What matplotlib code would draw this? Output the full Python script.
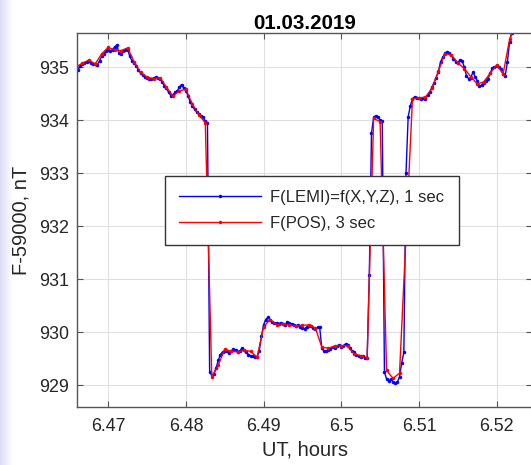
#! /usr/bin/env python
# coding: utf-8
"""Plot F(LEMI) vs F(POS) total field, 01.03.2019."""

import numpy as np
import matplotlib
matplotlib.use('Agg')
import matplotlib.pyplot as plt
from matplotlib.colors import LinearSegmentedColormap

# sampling: both series start at the same UT, LEMI every 1 s, POS every 3 s
t_start = 6.465804
dt_lemi = 1.0 / 3600
dt_pos = 3.0 / 3600

# F - 59000, nT (1 s LEMI)
f_lemi = [
    935.00, 934.94, 935.02, 935.05, 935.08, 935.10, 935.12, 935.08, 935.05, 935.06,
    935.04, 935.12, 935.20, 935.25, 935.30, 935.33, 935.30, 935.33, 935.38, 935.41,
    935.26, 935.25, 935.30, 935.33, 935.33, 935.20, 935.12, 935.08, 935.02, 934.95,
    934.88, 934.85, 934.82, 934.79, 934.78, 934.78, 934.79, 934.81, 934.79, 934.77,
    934.72, 934.65, 934.60, 934.52, 934.46, 934.48, 934.52, 934.55, 934.62, 934.67,
    934.60, 934.55, 934.46, 934.34, 934.27, 934.20, 934.15, 934.12, 934.08, 934.05,
    933.98, 933.95, 929.25, 929.19, 929.22, 929.33, 929.47, 929.58, 929.63, 929.65,
    929.65, 929.61, 929.64, 929.68, 929.66, 929.63, 929.65, 929.70, 929.66, 929.62,
    929.58, 929.56, 929.55, 929.54, 929.53, 929.65, 929.92, 930.14, 930.24, 930.28,
    930.24, 930.20, 930.18, 930.17, 930.16, 930.18, 930.16, 930.14, 930.20, 930.17,
    930.15, 930.13, 930.12, 930.14, 930.10, 930.08, 930.07, 930.10, 930.12, 930.11,
    930.08, 930.07, 930.09, 930.09, 929.70, 929.64, 929.65, 929.66, 929.68, 929.72,
    929.70, 929.74, 929.76, 929.73, 929.75, 929.78, 929.76, 929.70, 929.64, 929.62,
    929.58, 929.55, 929.53, 929.55, 929.52, 929.52, 931.08, 933.75, 934.05, 934.08,
    934.05, 934.00, 933.98, 929.25, 929.12, 929.08, 929.12, 929.07, 929.05, 929.06,
    929.16, 929.42, 929.62, 933.00, 934.06, 934.27, 934.40, 934.44, 934.42, 934.41,
    934.40, 934.42, 934.40, 934.47, 934.52, 934.62, 934.70, 934.80, 934.91, 935.10,
    935.18, 935.26, 935.28, 935.26, 935.22, 935.16, 935.10, 935.07, 935.14, 935.12,
    935.00, 934.84, 934.78, 934.80, 934.90, 934.82, 934.74, 934.64, 934.66, 934.70,
    934.74, 934.78, 934.88, 934.98, 935.00, 935.02, 935.00, 934.96, 934.86, 934.84,
    935.10, 935.48, 935.64,
]

# F - 59000, nT (3 s POS)
f_pos = [
    935.00, 935.07, 935.13, 935.06, 935.25, 935.37, 935.32, 935.31, 935.36, 935.10,
    934.90, 934.81, 934.78, 934.80, 934.62, 934.45, 934.55, 934.58, 934.30, 934.10,
    933.95, 929.15, 929.38, 929.68, 929.64, 929.63, 929.66, 929.64, 929.53, 930.10,
    930.24, 930.14, 930.16, 930.13, 930.12, 930.13, 930.14, 930.08, 929.72, 929.70,
    929.74, 929.75, 929.74, 929.59, 929.56, 929.52, 934.03, 933.97, 929.28, 929.13,
    929.23, 931.80, 934.40, 934.42, 934.43, 934.60, 934.92, 935.25, 935.23, 935.08,
    934.97, 934.82, 934.68, 934.72, 934.88, 935.04, 934.87, 935.52, 935.90,
]

x_ticks = [6.47, 6.48, 6.49, 6.50, 6.51, 6.52]
x_tick_labels = ['6.47', '6.48', '6.49', '6.5', '6.51', '6.52']
y_ticks = [929, 930, 931, 932, 933, 934, 935]

labels = ['F(LEMI)=f(X,Y,Z), 1 sec', 'F(POS), 3 sec']
title = '01.03.2019'


def main():
    """Draw and save the figure."""
    plt.rcParams['font.family'] = ['Liberation Sans', 'DejaVu Sans']
    text_col = '#262626'

    fig = plt.figure(figsize=(5.31, 4.65), dpi=100)

    # lavender strip on the left border of the screenshot
    strip = fig.add_axes([0, 0, 0.024, 1])
    grad = np.linspace(0, 1, 64).reshape(1, -1)
    cmap = LinearSegmentedColormap.from_list('lav', ['#dcdcf6', '#ffffff'])
    strip.imshow(grad, aspect='auto', cmap=cmap)
    strip.axis('off')

    ax = fig.add_axes([0.14595, 0.12473, 0.8559, 0.80473])

    t_lemi = t_start + np.arange(len(f_lemi)) * dt_lemi
    t_pos = t_start + np.arange(len(f_pos)) * dt_pos

    ax.plot(t_lemi, f_lemi, color='#0000ff', lw=1.0, marker='.', ms=3,
            label=labels[0])
    ax.plot(t_pos, f_pos, color='#ff0000', lw=1.0, marker='.', ms=3,
            label=labels[1])

    ax.set_xlim(6.46602, 6.52452)
    ax.set_ylim(928.591, 935.645)
    ax.set_xticks(x_ticks)
    ax.set_xticklabels(x_tick_labels)
    ax.set_yticks(y_ticks)

    ax.grid(True, color='#e0e0e0', lw=0.8)
    ax.set_axisbelow(True)
    for sp in ax.spines.values():
        sp.set_color('#555555')
        sp.set_linewidth(1.0)
    ax.tick_params(direction='in', length=4, width=0.8, color='#555555',
                   top=True, right=True, labelsize=12.9, labelcolor=text_col)
    ax.tick_params(axis='x', pad=8)
    ax.tick_params(axis='y', pad=6)

    ax.set_xlabel('UT, hours', fontsize=14.5, color=text_col, labelpad=4)
    ax.set_ylabel('F-59000, nT', fontsize=14.5, color=text_col, labelpad=6)
    ax.set_title(title, fontsize=14.8, fontweight='bold', color='black', pad=3)

    leg = ax.legend(loc='upper left', bbox_to_anchor=(0.193, 0.617),
                    borderaxespad=0, fontsize=12, handlelength=4.9,
                    handletextpad=0.56, borderpad=0.85, labelspacing=0.62,
                    numpoints=1, fancybox=False, framealpha=1,
                    edgecolor='#333333')
    leg.get_frame().set_linewidth(1.0)
    for txt in leg.get_texts():
        txt.set_color(text_col)

    plt.savefig('out.png', dpi=100)
    plt.close()


if __name__ == '__main__':
    main()
